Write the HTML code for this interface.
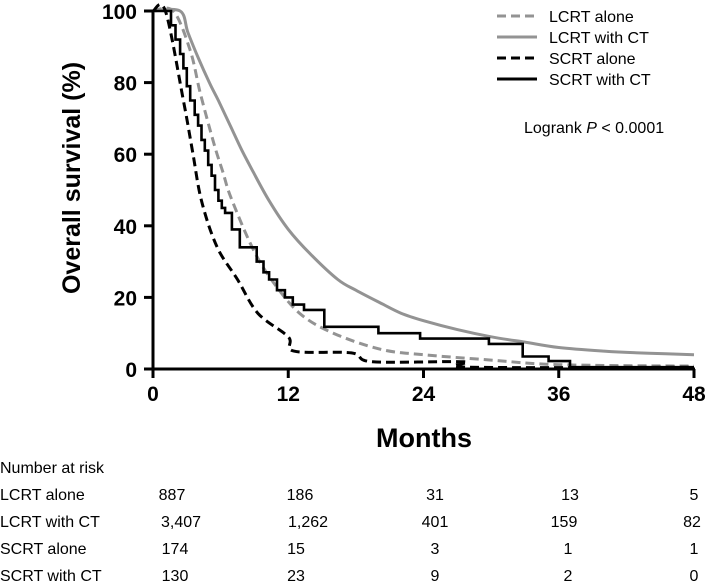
<!DOCTYPE html>
<html><head><meta charset="utf-8"><style>
body{margin:0;background:#fff;}
svg text{font-family:"Liberation Sans",Arial,sans-serif;}
</style></head><body>
<svg width="709" height="581" viewBox="0 0 709 581" id="chart">
<g id="plot"></g>
</svg>
<script>
const tickMonths=[0,12,24,36,48];
const tickPct=[0,20,40,60,80,100];
const seriesNames=["LCRT alone","LCRT with CT","SCRT alone","SCRT with CT"];
const lcrtCtMonths=[0,2.4,3.1,4,5,5.8,7,7.9,8.9,10.3,12,14,16.4,18,20.2,22,24,27,30,33,36,40,44,48];
const lcrtCtVals=[100,100,94,87,80,75,67,61,55,47,39,32,25,22,18.4,15.6,13.5,11,9,7.5,6,5,4.4,4];
const lcrtMonths=[0,1.8,3.3,4.2,5.4,6.2,6.9,8.8,10.5,13,16,20.2,24,30,36,48];
const lcrtVals=[100,100,89,77,63,55,48,34,25,15.6,10,5.5,4,2.5,1.2,0.8];
const scrtMonths=[0,1.1,2.7,3.5,4.3,5.7,7.5,9.3,12,12.5,17.6,19.5,27.6,28,48];
const scrtVals=[100,100,75,61,47,34,25,15.6,9,5,4.5,2,2,0.5,0.5];
const scrtCtMonths=[0,1.1,1.6,2,2.4,2.7,3,3.3,3.7,4,4.3,4.6,4.9,5.2,5.5,5.8,6.1,6.4,7,7.7,8.6,9.2,9.8,10.3,11,11.7,12.4,13.4,15.2,20,23.7,29.8,32.8,35.1,37,48];
const scrtCtVals=[100,100,96,92,88,84,79,75,71,68,64,61,57,54,50,47,45,43.6,39,34,34,30,27,25,22,20,18,16.5,11.8,10,8.5,7,3.5,2.2,0.5,0.5];
const riskRows=["LCRT alone","LCRT with CT","SCRT alone","SCRT with CT"];
const riskLcrt=["887","186","31","13","5"];
const riskLcrtCt=["3,407","1,262","401","159","82"];
const riskScrt=["174","15","3","1","1"];
const riskScrtCt=["130","23","9","2","0"];

const X=m=>153+m*(694-153)/48;
const Y=v=>369-v*(369-11)/100;
const NS="http://www.w3.org/2000/svg";
const svg=document.getElementById('plot');
function mk(tag,attrs,parent){const e=document.createElementNS(NS,tag);for(const k in attrs)e.setAttribute(k,attrs[k]);(parent||svg).appendChild(e);return e;}
function txt(s,x,y,attrs){const t=mk('text',Object.assign({x:x,y:y},attrs));t.textContent=s;return t;}

let a=mk('line',{x1:153,y1:369,x2:695,y2:369,stroke:'#000','stroke-width':3});


a=mk('line',{x1:153,y1:10,x2:153,y2:370,stroke:'#000','stroke-width':3});


tickMonths.forEach(m=>{
  const l=mk('line',{x1:X(m),y1:369,x2:X(m),y2:378,stroke:'#000','stroke-width':3});
  
  
  const t=txt(String(m),X(m),401,{'font-size':21,'font-weight':'bold','text-anchor':'middle'});
  
  
});
tickPct.forEach(v=>{
  const l=mk('line',{x1:144,y1:Y(v),x2:153,y2:Y(v),stroke:'#000','stroke-width':3});
  
  
  const t=txt(String(v),137,Y(v)+8,{'font-size':21,'font-weight':'bold','text-anchor':'end'});
  
  
});
let t=txt('Months',424,447,{'font-size':27,'font-weight':'bold','text-anchor':'middle'});


t=txt('Overall survival (%)',0,0,{'font-size':25,'font-weight':'bold','text-anchor':'middle',transform:'translate(80,178) rotate(-90)'});



function smooth(ms,vs){
  const P=ms.map((m,i)=>[X(m),Y(vs[i])]);
  let d='M'+P[0][0].toFixed(1)+','+P[0][1].toFixed(1);
  for(let i=0;i<P.length-1;i++){
    const p0=P[i-1]||P[i],p1=P[i],p2=P[i+1],p3=P[i+2]||P[i+1];
    const c1=[p1[0]+(p2[0]-p0[0])/6,p1[1]+(p2[1]-p0[1])/6];
    const c2=[p2[0]-(p3[0]-p1[0])/6,p2[1]-(p3[1]-p1[1])/6];
    d+=' C'+c1.map(v=>v.toFixed(1)).join(',')+' '+c2.map(v=>v.toFixed(1)).join(',')+' '+p2[0].toFixed(1)+','+p2[1].toFixed(1);
  }
  return d;
}
function step(ms,vs){let d='M'+X(ms[0])+','+Y(vs[0]);for(let i=1;i<ms.length;i++){d+=' L'+X(ms[i]).toFixed(1)+','+Y(vs[i-1]).toFixed(1)+' L'+X(ms[i]).toFixed(1)+','+Y(vs[i]).toFixed(1);}return d;}
let p=mk('path',{d:smooth(lcrtCtMonths,lcrtCtVals),fill:'none',stroke:'#939393','stroke-width':3,'stroke-linejoin':'round'});


p=mk('path',{d:smooth(lcrtMonths,lcrtVals),fill:'none',stroke:'#939393','stroke-width':3,'stroke-dasharray':'9,5'});


p=mk('path',{d:smooth(scrtMonths,scrtVals),fill:'none',stroke:'#000','stroke-width':3,'stroke-dasharray':'9,5'});


p=mk('path',{d:step(scrtCtMonths,scrtCtVals),fill:'none',stroke:'#000','stroke-width':2.6});



const legStyles=[['#939393','9,5'],['#939393',''],['#000','9,5'],['#000','']];
seriesNames.forEach((n,i)=>{
  const y=16+i*21;
  const g=mk('g',{});
  
  
  mk('line',{x1:497,y1:y,x2:537,y2:y,stroke:legStyles[i][0],'stroke-width':3,'stroke-dasharray':legStyles[i][1]},g);
  const tt=mk('text',{x:549,y:y+6,'font-size':16},g);tt.textContent=n;
});
t=txt('',524,133,{'font-size':16});
t.innerHTML='Logrank <tspan font-style="italic">P</tspan> &lt; 0.0001';



t=txt('Number at risk',0,473,{'font-size':16});


const riskData=[riskLcrt,riskLcrtCt,riskScrt,riskScrtCt];
const colX=[[172,300,435,570,694],[181,308,435,564,692],[175,296,435,568,694],[175,296,435,568,694]];
riskRows.forEach((r,i)=>{
  const y=500+i*27;
  const l=txt(r,0,y,{'font-size':16});
  
  
  riskData[i].forEach((v,j)=>{
    const c=txt(v,colX[i][j],y,{'font-size':16,'text-anchor':'middle'});
    
    
  });
});
</script>
</body></html>
